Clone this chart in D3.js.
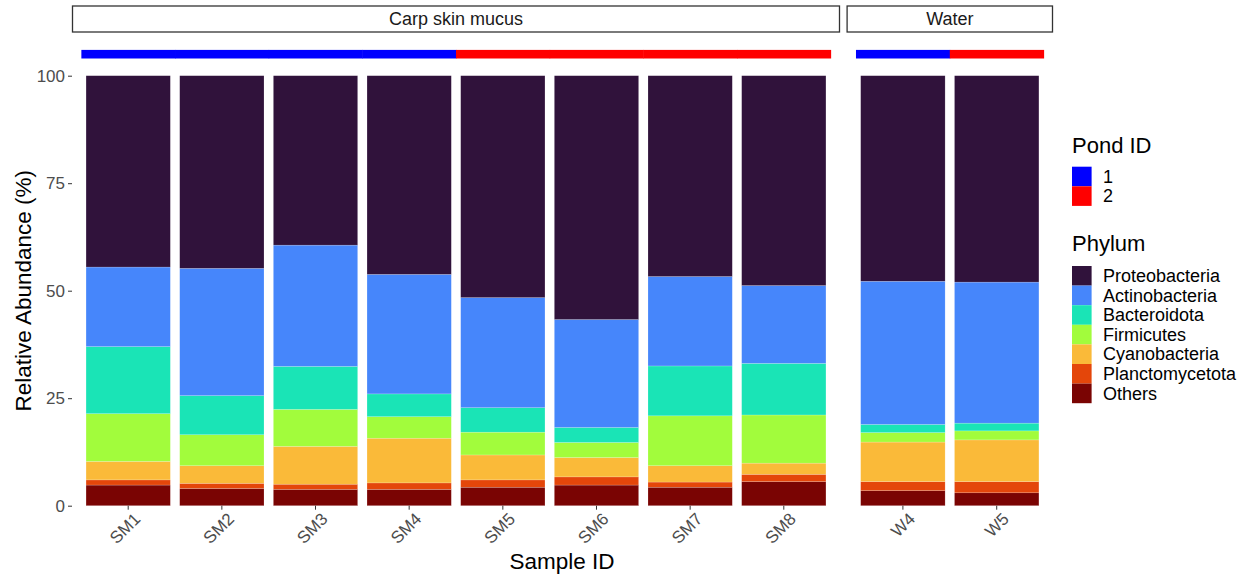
<!DOCTYPE html>
<html>
<head>
<meta charset="utf-8">
<script src="https://cdn.jsdelivr.net/npm/d3@7"></script>
<style>
  body { margin: 0; background: #fff; }
  text { font-family: "Liberation Sans", Arial, sans-serif; }
</style>
</head>
<body>
<script>
// samples, grouped by sample type
var mucusSamples = ["SM1", "SM2", "SM3", "SM4", "SM5", "SM6", "SM7", "SM8"];
var waterSamples = ["W4", "W5"];
var pondOf = { SM1: "1", SM2: "1", SM3: "1", SM4: "1", SM5: "2", SM6: "2", SM7: "2", SM8: "2", W4: "1", W5: "2" };

// phyla, bottom of the stack first
var phyla = ["Others", "Planctomycetota", "Cyanobacteria", "Firmicutes", "Bacteroidota", "Actinobacteria", "Proteobacteria"];
var phylaColors = ["#7A0403", "#E4460A", "#FABA39", "#A2FC3C", "#1AE4B6", "#4686FB", "#30123B"];

// relative abundance (%) per phylum, same order as samples SM1..SM8, W4, W5
var others          = [4.8, 4.0, 3.8, 3.8, 4.3, 4.8, 4.3, 5.6, 3.5, 3.0];
var planctomycetota = [1.2, 1.2, 1.2, 1.5, 1.7, 1.9, 1.2, 1.7, 2.1, 2.6];
var cyanobacteria   = [4.3, 4.1, 8.8, 10.4, 5.8, 4.5, 3.8, 2.6, 9.2, 9.7];
var firmicutes      = [11.1, 7.2, 8.6, 5.0, 5.3, 3.5, 11.6, 11.2, 2.2, 2.1];
var bacteroidota    = [15.6, 9.1, 10.0, 5.3, 5.7, 3.5, 11.6, 12.0, 1.9, 1.8];
var actinobacteria  = [18.5, 29.6, 28.2, 27.8, 25.6, 25.1, 20.8, 18.1, 33.3, 32.8];
var proteobacteria  = [44.5, 44.8, 39.4, 46.2, 51.6, 56.7, 46.7, 48.8, 47.8, 48.0];

var yTicks = [0, 25, 50, 75, 100];
var pondIds = ["1", "2"];
var pondColors = ["#0000FF", "#FF0000"];

var allSamples = mucusSamples.concat(waterSamples);
var seriesValues = [others, planctomycetota, cyanobacteria, firmicutes, bacteroidota, actinobacteria, proteobacteria];
var table = allSamples.map(function (s, i) {
  var row = { sample: s };
  phyla.forEach(function (p, j) { row[p] = seriesValues[j][i]; });
  return row;
});

var width = 1257, height = 579;
var svg = d3.select("body").append("svg")
  .attr("width", width)
  .attr("height", height);

var color = d3.scaleOrdinal().domain(phyla).range(phylaColors);
var pondColor = d3.scaleOrdinal().domain(pondIds).range(pondColors);
var y = d3.scaleLinear().domain([0, 100]).range([505.7, 75.7]);

var stack = d3.stack().keys(phyla);

var panels = [
  { label: "Carp skin mucus", samples: mucusSamples, x0: 72, x1: 840 },
  { label: "Water", samples: waterSamples, x0: 846.6, x1: 1053 }
];

panels.forEach(function (panel) {
  var x = d3.scaleBand()
    .domain(panel.samples)
    .range([panel.x0, panel.x1])
    .paddingInner(0.1)
    .paddingOuter(0.15);

  var rows = table.filter(function (r) { return panel.samples.indexOf(r.sample) >= 0; });
  var series = stack(rows);

  var g = svg.append("g");

  g.selectAll("g.layer")
    .data(series)
    .enter().append("g")
    .attr("class", "layer")
    .attr("fill", function (d) { return color(d.key); })
    .selectAll("rect")
    .data(function (d) { return d; })
    .enter().append("rect")
    .attr("x", function (d) { return x(d.data.sample); })
    .attr("width", x.bandwidth())
    .attr("y", function (d) { return y(d[1]); })
    .attr("height", function (d) { return y(d[0]) - y(d[1]); })
    .attr("stroke", "#ffffff")
    .attr("stroke-opacity", 0.35)
    .attr("stroke-width", 0.5);

  // pond id bar above the stacks
  var step = x.step();
  g.selectAll("rect.pond")
    .data(panel.samples)
    .enter().append("rect")
    .attr("class", "pond")
    .attr("x", function (d) { return x(d) + x.bandwidth() / 2 - step / 2; })
    .attr("width", step + 0.5)
    .attr("y", y(106))
    .attr("height", y(104) - y(106))
    .attr("fill", function (d) { return pondColor(pondOf[d]); });

  // strip label
  g.append("rect")
    .attr("x", panel.x0 + 0.5)
    .attr("y", 6)
    .attr("width", panel.x1 - panel.x0 - 1)
    .attr("height", 26)
    .attr("fill", "#fff")
    .attr("stroke", "#333")
    .attr("stroke-width", 1.3);
  g.append("text")
    .attr("x", (panel.x0 + panel.x1) / 2)
    .attr("y", 19)
    .attr("dy", "0.35em")
    .attr("text-anchor", "middle")
    .attr("font-size", 18)
    .attr("fill", "#1a1a1a")
    .text(panel.label);

  // x axis
  var xAxis = g.append("g")
    .attr("transform", "translate(0," + y(0) + ")")
    .call(d3.axisBottom(x).tickSize(4).tickPadding(2));
  xAxis.select(".domain").remove();
  xAxis.selectAll(".tick line").attr("stroke", "#333").attr("stroke-width", 1);
  xAxis.selectAll(".tick text")
    .attr("font-size", 17)
    .attr("fill", "#4d4d4d")
    .attr("text-anchor", "end")
    .attr("dy", null)
    .attr("transform", "translate(9,10) rotate(-45)");
});

// y axis
var yAxis = svg.append("g")
  .attr("transform", "translate(72,0)")
  .call(d3.axisLeft(y).tickValues(yTicks).tickSize(4).tickPadding(3));
yAxis.select(".domain").remove();
yAxis.selectAll(".tick line").attr("stroke", "#333");
yAxis.selectAll(".tick text").attr("font-size", 17).attr("fill", "#4d4d4d");

svg.append("text")
  .attr("transform", "translate(31," + y(50) + ") rotate(-90)")
  .attr("text-anchor", "middle")
  .attr("font-size", 22.5)
  .attr("fill", "#000")
  .text("Relative Abundance (%)");

svg.append("text")
  .attr("x", 562)
  .attr("y", 569)
  .attr("text-anchor", "middle")
  .attr("font-size", 22.5)
  .attr("fill", "#000")
  .text("Sample ID");

// legends
var legend = svg.append("g").attr("transform", "translate(1072,0)");
legend.append("text")
  .attr("x", 0).attr("y", 153)
  .attr("font-size", 22)
  .text("Pond ID");
var pondKeys = legend.selectAll("g.pk")
  .data(pondIds)
  .enter().append("g")
  .attr("transform", function (d, i) { return "translate(0," + (166.7 + i * 19.6) + ")"; });
pondKeys.append("rect")
  .attr("width", 19.6).attr("height", 19.6)
  .attr("fill", function (d) { return pondColor(d); });
pondKeys.append("text")
  .attr("x", 31).attr("y", 9.8).attr("dy", "0.35em")
  .attr("font-size", 18)
  .text(function (d) { return d; });

legend.append("text")
  .attr("x", 0).attr("y", 251)
  .attr("font-size", 22)
  .text("Phylum");
var phylumOrder = phyla.slice().reverse();
var phylumKeys = legend.selectAll("g.fk")
  .data(phylumOrder)
  .enter().append("g")
  .attr("transform", function (d, i) { return "translate(0," + (266 + i * 19.6) + ")"; });
phylumKeys.append("rect")
  .attr("width", 19.6).attr("height", 19.6)
  .attr("fill", function (d) { return color(d); });
phylumKeys.append("text")
  .attr("x", 31).attr("y", 9.8).attr("dy", "0.35em")
  .attr("font-size", 18)
  .text(function (d) { return d; });
</script>
</body>
</html>
